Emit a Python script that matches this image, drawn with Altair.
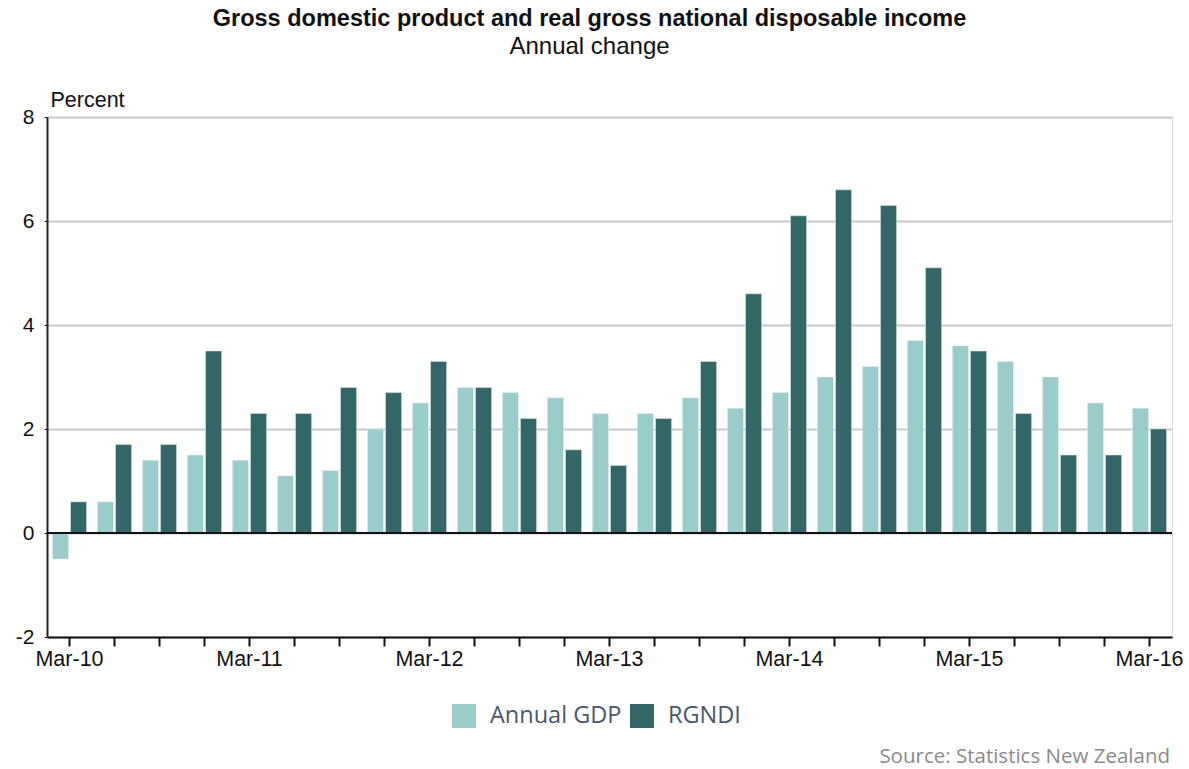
import altair as alt
import pandas as pd

# Quarterly annual-change figures, March 2010 to March 2016
quarters = [
    "Mar-10", "Jun-10", "Sep-10", "Dec-10",
    "Mar-11", "Jun-11", "Sep-11", "Dec-11",
    "Mar-12", "Jun-12", "Sep-12", "Dec-12",
    "Mar-13", "Jun-13", "Sep-13", "Dec-13",
    "Mar-14", "Jun-14", "Sep-14", "Dec-14",
    "Mar-15", "Jun-15", "Sep-15", "Dec-15",
    "Mar-16",
]
gdp = [-0.5, 0.6, 1.4, 1.5, 1.4, 1.1, 1.2, 2.0, 2.5, 2.8, 2.7, 2.6, 2.3,
       2.3, 2.6, 2.4, 2.7, 3.0, 3.2, 3.7, 3.6, 3.3, 3.0, 2.5, 2.4]
rgndi = [0.6, 1.7, 1.7, 3.5, 2.3, 2.3, 2.8, 2.7, 3.3, 2.8, 2.2, 1.6, 1.3,
         2.2, 3.3, 4.6, 6.1, 6.6, 6.3, 5.1, 3.5, 2.3, 1.5, 1.5, 2.0]
series_names = ["Annual GDP", "RGNDI"]
series_colors = ["#9BCCCC", "#336666"]
y_ticks = [-2, 0, 2, 4, 6, 8]
source_note = "Source: Statistics New Zealand"

rows = []
for q, g, r in zip(quarters, gdp, rgndi):
    rows.append({"quarter": q, "series": series_names[0], "value": g})
    rows.append({"quarter": q, "series": series_names[1], "value": r})
df = pd.DataFrame(rows)

W, H = 1125, 520
LABEL_FONT = "Liberation Sans"
LEGEND_FONT = "Open Sans"

bars = alt.Chart(df).mark_bar(stroke="#E8F2F2", strokeWidth=0.5).encode(
    x=alt.X(
        "quarter:N",
        sort=quarters,
        scale=alt.Scale(paddingInner=0.24, paddingOuter=0.12),
        axis=alt.Axis(
            title=None,
            labelAngle=0,
            labelExpr="indexof(datum.label, 'Mar') == 0 ? datum.label : ''",
            labelFont=LABEL_FONT,
            labelFontSize=21.5,
            labelColor="#111111",
            labelPadding=2,
            labelOverlap=False,
            domainColor="#111111",
            domainWidth=2,
            tickColor="#111111",
            tickWidth=2,
            tickSize=9,
            grid=False,
        ),
    ),
    xOffset=alt.XOffset(
        "series:N",
        sort=series_names,
        scale=alt.Scale(paddingInner=0.11),
    ),
    y=alt.Y(
        "value:Q",
        scale=alt.Scale(domain=[-2, 8], nice=False, zero=False),
        axis=alt.Axis(
            values=y_ticks,
            labelExpr="datum.value < 0 ? '-' + abs(datum.value) : '' + datum.value",
            title="Percent",
            titleAngle=0,
            titleAlign="left",
            titleBaseline="alphabetic",
            titleX=3,
            titleY=-11,
            titleFont=LABEL_FONT,
            titleFontSize=21.5,
            titleFontWeight="normal",
            titleColor="#111111",
            labelFont=LABEL_FONT,
            labelFontSize=21,
            labelColor="#111111",
            labelPadding=10,
            domainColor="#222222",
            domainWidth=2,
            tickColor="#222222",
            tickSize=3,
            gridColor="#C8C8C8",
            gridWidth=2,
        ),
    ),
    color=alt.Color(
        "series:N",
        sort=series_names,
        scale=alt.Scale(domain=series_names, range=series_colors),
        legend=alt.Legend(
            title=None,
            orient="none",
            legendX=405,
            legendY=587,
            direction="horizontal",
            symbolType="square",
            symbolSize=576,
            symbolStrokeWidth=0,
            symbolOpacity=1,
            labelFont=LEGEND_FONT,
            labelFontSize=23.5,
            labelColor="#4A5868",
            labelOffset=14,
            columnPadding=8,
        ),
    ),
)

zero_line = alt.Chart(df).mark_rule(color="#111111", strokeWidth=2).encode(
    y=alt.datum(0)
)

note = alt.Chart(pd.DataFrame({"t": [source_note]})).mark_text(
    align="right",
    baseline="alphabetic",
    font=LEGEND_FONT,
    fontSize=20.5,
    color="#8A8A8A",
).encode(
    text="t:N",
    x=alt.value(W - 2),
    y=alt.value(646),
)

chart = (
    alt.layer(bars, zero_line, note)
    .properties(
        width=W,
        height=H,
        autosize=alt.AutoSizeParams(type="none"),
        padding={"left": 47, "top": 117, "right": 17, "bottom": 132},
        title=alt.TitleParams(
            text="Gross domestic product and real gross national disposable income",
            subtitle="Annual change",
            anchor="middle",
            dx=-20,
            offset=30,
            font=LABEL_FONT,
            fontSize=23.5,
            fontWeight="bold",
            color="#111111",
            subtitleFont=LABEL_FONT,
            subtitleFontSize=24,
            subtitleColor="#111111",
            subtitlePadding=5,
        ),
    )
    .configure_view(stroke=None)
    .configure(background="white")
)

chart.save("out.html", embed_options={"renderer": "svg", "actions": False})
